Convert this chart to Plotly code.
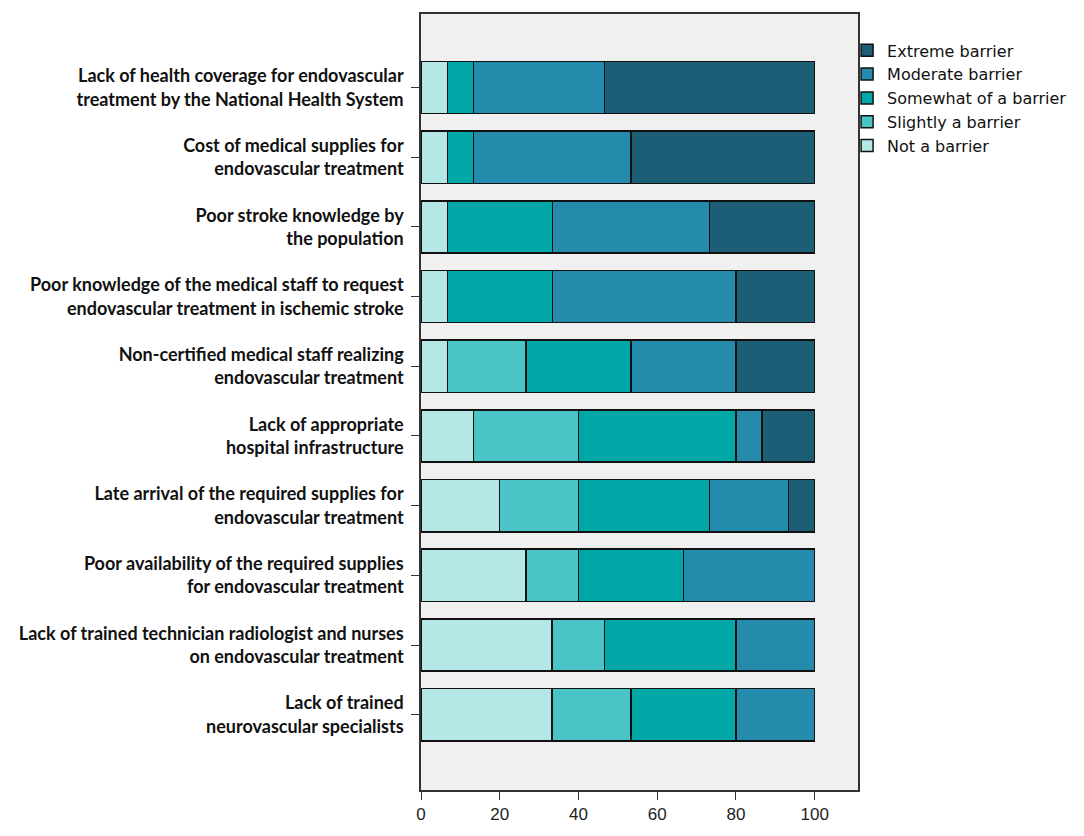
import plotly.graph_objects as go

# barrier items, top to bottom
items = [
    'Lack of health coverage for endovascular<br>treatment by the National Health System',
    'Cost of medical supplies for<br>endovascular treatment',
    'Poor stroke knowledge by<br>the population',
    'Poor knowledge of the medical staff to request<br>endovascular treatment in ischemic stroke',
    'Non-certified medical staff realizing<br>endovascular treatment',
    'Lack of appropriate<br>hospital infrastructure',
    'Late arrival of the required supplies for<br>endovascular treatment',
    'Poor availability of the required supplies<br>for endovascular treatment',
    'Lack of trained technician radiologist and nurses<br>on endovascular treatment',
    'Lack of trained<br>neurovascular specialists',
]

# percent of respondents per answer (n=15)
not_barrier = [6.67, 6.67, 6.67, 6.67, 6.67, 13.33, 20.0, 26.67, 33.33, 33.33]
slightly = [0, 0, 0, 0, 20.0, 26.67, 20.0, 13.33, 13.33, 20.0]
somewhat = [6.67, 6.67, 26.67, 26.67, 26.67, 40.0, 33.33, 26.67, 33.33, 26.67]
moderate = [33.33, 40.0, 40.0, 46.67, 26.67, 6.67, 20.0, 33.33, 20.0, 20.0]
extreme = [53.33, 46.67, 26.67, 20.0, 20.0, 13.33, 6.67, 0, 0, 0]

series = [
    ('Not a barrier', not_barrier, '#b5e7e7'),
    ('Slightly a barrier', slightly, '#4bc4c7'),
    ('Somewhat of a barrier', somewhat, '#01a7a6'),
    ('Moderate barrier', moderate, '#248bad'),
    ('Extreme barrier', extreme, '#1c5e75'),
]

pos = list(range(len(items)))

fig = go.Figure()
for name, vals, col in series:
    fig.add_trace(go.Bar(
        y=pos, x=vals, name=name, orientation='h',
        marker=dict(color=col, line=dict(color='#111111', width=1.5)),
    ))

# page body has an 8px margin, so the figure is a bit smaller than the window
fig.update_layout(
    barmode='stack',
    bargap=0.25,
    width=1068, height=820,
    margin=dict(l=413, r=218, t=4, b=35),
    plot_bgcolor='#f0f0f0',
    paper_bgcolor='white',
    showlegend=True,
    legend=dict(
        traceorder='reversed',
        x=0.975, y=0.975, xanchor='left', yanchor='top',
        font=dict(family='DejaVu Sans', size=16, color='#111111'),
        bgcolor='rgba(0,0,0,0)',
        tracegroupgap=0, itemwidth=30,
    ),
)
fig.update_xaxes(
    range=[0, 111], tickvals=[0, 20, 40, 60, 80, 100],
    showgrid=False, zeroline=False,
    showline=True, linecolor='#333333', linewidth=1.5, mirror=True,
    ticks='outside', ticklen=8, tickcolor='#333333',
    tickfont=dict(family='Liberation Sans, Arial', size=17, color='#222222'),
)
fig.update_yaxes(
    range=[10.08, -1.055], tickvals=pos, ticktext=items,
    showgrid=False, zeroline=False,
    showline=True, linecolor='#333333', linewidth=1.5, mirror=True,
    ticks='outside', ticklen=8, tickcolor='#333333', ticklabelstandoff=4,
    tickfont=dict(family='Lato', size=18, color='#111111', weight='bold'),
)

fig.write_html("out.html")
